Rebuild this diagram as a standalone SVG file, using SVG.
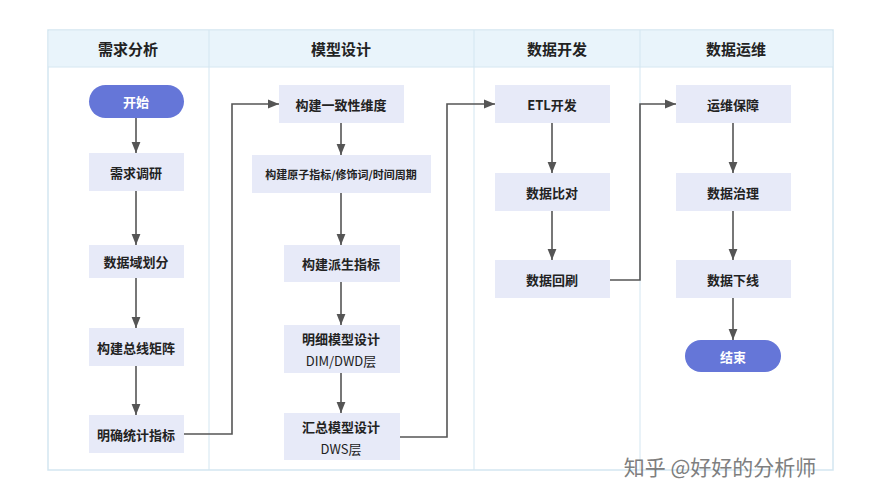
<svg xmlns="http://www.w3.org/2000/svg" width="874" height="500" viewBox="0 0 874 500">
<defs>
<style>
text{font-family:"Noto Sans CJK SC","Liberation Sans",sans-serif;fill:#222;text-anchor:middle;dominant-baseline:central}
.h{font-size:15px;font-weight:bold}
.n{font-size:13px;font-weight:bold}
.s{font-size:11px;font-weight:bold}
.l{font-size:13px;font-weight:normal}
.box{fill:#e7eaf8}
.oval{fill:#6576d8}
.c{fill:none;stroke:#555;stroke-width:1.6}
</style>
<marker id="a" viewBox="0 0 10 10" refX="10" refY="5" markerWidth="7" markerHeight="7" orient="auto"><path d="M0,1 L10,5 L0,9 z" fill="#555"/></marker>
</defs>
<rect width="874" height="500" fill="#fff"/>
<g id="frame">
<rect x="48" y="30" width="785" height="440" fill="#fff" stroke="#d3e6f1" stroke-width="1.5"/>
<rect x="48.75" y="30.75" width="783.5" height="36" fill="#e9f4fb"/>
<line x1="48" y1="67" x2="833" y2="67" stroke="#d3e6f1"/>
<line x1="209" y1="30" x2="209" y2="470" stroke="#d3e6f1"/>
<line x1="474" y1="30" x2="474" y2="470" stroke="#d3e6f1"/>
<line x1="640" y1="30" x2="640" y2="470" stroke="#d3e6f1"/>
<text class="h" x="128" y="48">需求分析</text>
<text class="h" x="341" y="48">模型设计</text>
<text class="h" x="557" y="48">数据开发</text>
<text class="h" x="736" y="48">数据运维</text>
</g>
<g id="connectors">
<line class="c" x1="136" y1="118" x2="136" y2="153" marker-end="url(#a)"/>
<line class="c" x1="136" y1="191" x2="136" y2="245" marker-end="url(#a)"/>
<line class="c" x1="136" y1="278" x2="136" y2="328" marker-end="url(#a)"/>
<line class="c" x1="136" y1="366" x2="136" y2="415" marker-end="url(#a)"/>
<polyline class="c" points="184,434 232,434 232,104 279,104" marker-end="url(#a)"/>
<line class="c" x1="341" y1="123" x2="341" y2="155" marker-end="url(#a)"/>
<line class="c" x1="341" y1="193" x2="341" y2="245" marker-end="url(#a)"/>
<line class="c" x1="341" y1="282" x2="341" y2="325" marker-end="url(#a)"/>
<line class="c" x1="341" y1="373" x2="341" y2="413" marker-end="url(#a)"/>
<polyline class="c" points="400,437 447,437 447,104 495,104" marker-end="url(#a)"/>
<line class="c" x1="552" y1="123" x2="552" y2="173" marker-end="url(#a)"/>
<line class="c" x1="552" y1="211" x2="552" y2="260" marker-end="url(#a)"/>
<polyline class="c" points="610,280 640,280 640,104 676,104" marker-end="url(#a)"/>
<line class="c" x1="733" y1="123" x2="733" y2="173" marker-end="url(#a)"/>
<line class="c" x1="733" y1="211" x2="733" y2="260" marker-end="url(#a)"/>
<line class="c" x1="733" y1="298" x2="733" y2="340" marker-end="url(#a)"/>
</g>
<g id="start"><rect class="oval" x="89" y="85" width="95" height="33" rx="16.5"/><text class="n" x="136" y="101.5" style="fill:#fff">开始</text></g>
<g id="n1"><rect class="box" x="89" y="153" width="95" height="38"/><text class="n" x="136" y="172">需求调研</text></g>
<g id="n2"><rect class="box" x="89" y="245" width="95" height="33"/><text class="n" x="136" y="261.5">数据域划分</text></g>
<g id="n3"><rect class="box" x="89" y="328" width="95" height="38"/><text class="n" x="136" y="347">构建总线矩阵</text></g>
<g id="n4"><rect class="box" x="89" y="415" width="95" height="38"/><text class="n" x="136" y="434">明确统计指标</text></g>
<g id="m1"><rect class="box" x="279" y="85" width="125" height="38"/><text class="n" x="341" y="104">构建一致性维度</text></g>
<g id="m2"><rect class="box" x="252" y="155" width="179" height="38"/><text class="s" x="341" y="174">构建原子指标/修饰词/时间周期</text></g>
<g id="m3"><rect class="box" x="284" y="245" width="116" height="37"/><text class="n" x="341" y="263.5">构建派生指标</text></g>
<g id="m4"><rect class="box" x="284" y="325" width="116" height="48"/><text class="n" x="341" y="338">明细模型设计</text><text class="l" x="341" y="360">DIM/DWD层</text></g>
<g id="m5"><rect class="box" x="284" y="413" width="116" height="47"/><text class="n" x="341" y="426">汇总模型设计</text><text class="l" x="341" y="448">DWS层</text></g>
<g id="d1"><rect class="box" x="495" y="85" width="115" height="38"/><text class="n" x="552" y="104">ETL开发</text></g>
<g id="d2"><rect class="box" x="495" y="173" width="115" height="38"/><text class="n" x="552" y="192">数据比对</text></g>
<g id="d3"><rect class="box" x="495" y="260" width="115" height="38"/><text class="n" x="552" y="279">数据回刷</text></g>
<g id="o1"><rect class="box" x="676" y="85" width="115" height="38"/><text class="n" x="733" y="104">运维保障</text></g>
<g id="o2"><rect class="box" x="676" y="173" width="115" height="38"/><text class="n" x="733" y="192">数据治理</text></g>
<g id="o3"><rect class="box" x="676" y="260" width="115" height="38"/><text class="n" x="733" y="279">数据下线</text></g>
<g id="end"><rect class="oval" x="685" y="340" width="96" height="32" rx="16"/><text class="n" x="733" y="356" style="fill:#fff">结束</text></g>
<text x="720" y="466" style="font-size:21px;fill:#555;opacity:0.75">知乎 @好好的分析师</text>
</svg>
